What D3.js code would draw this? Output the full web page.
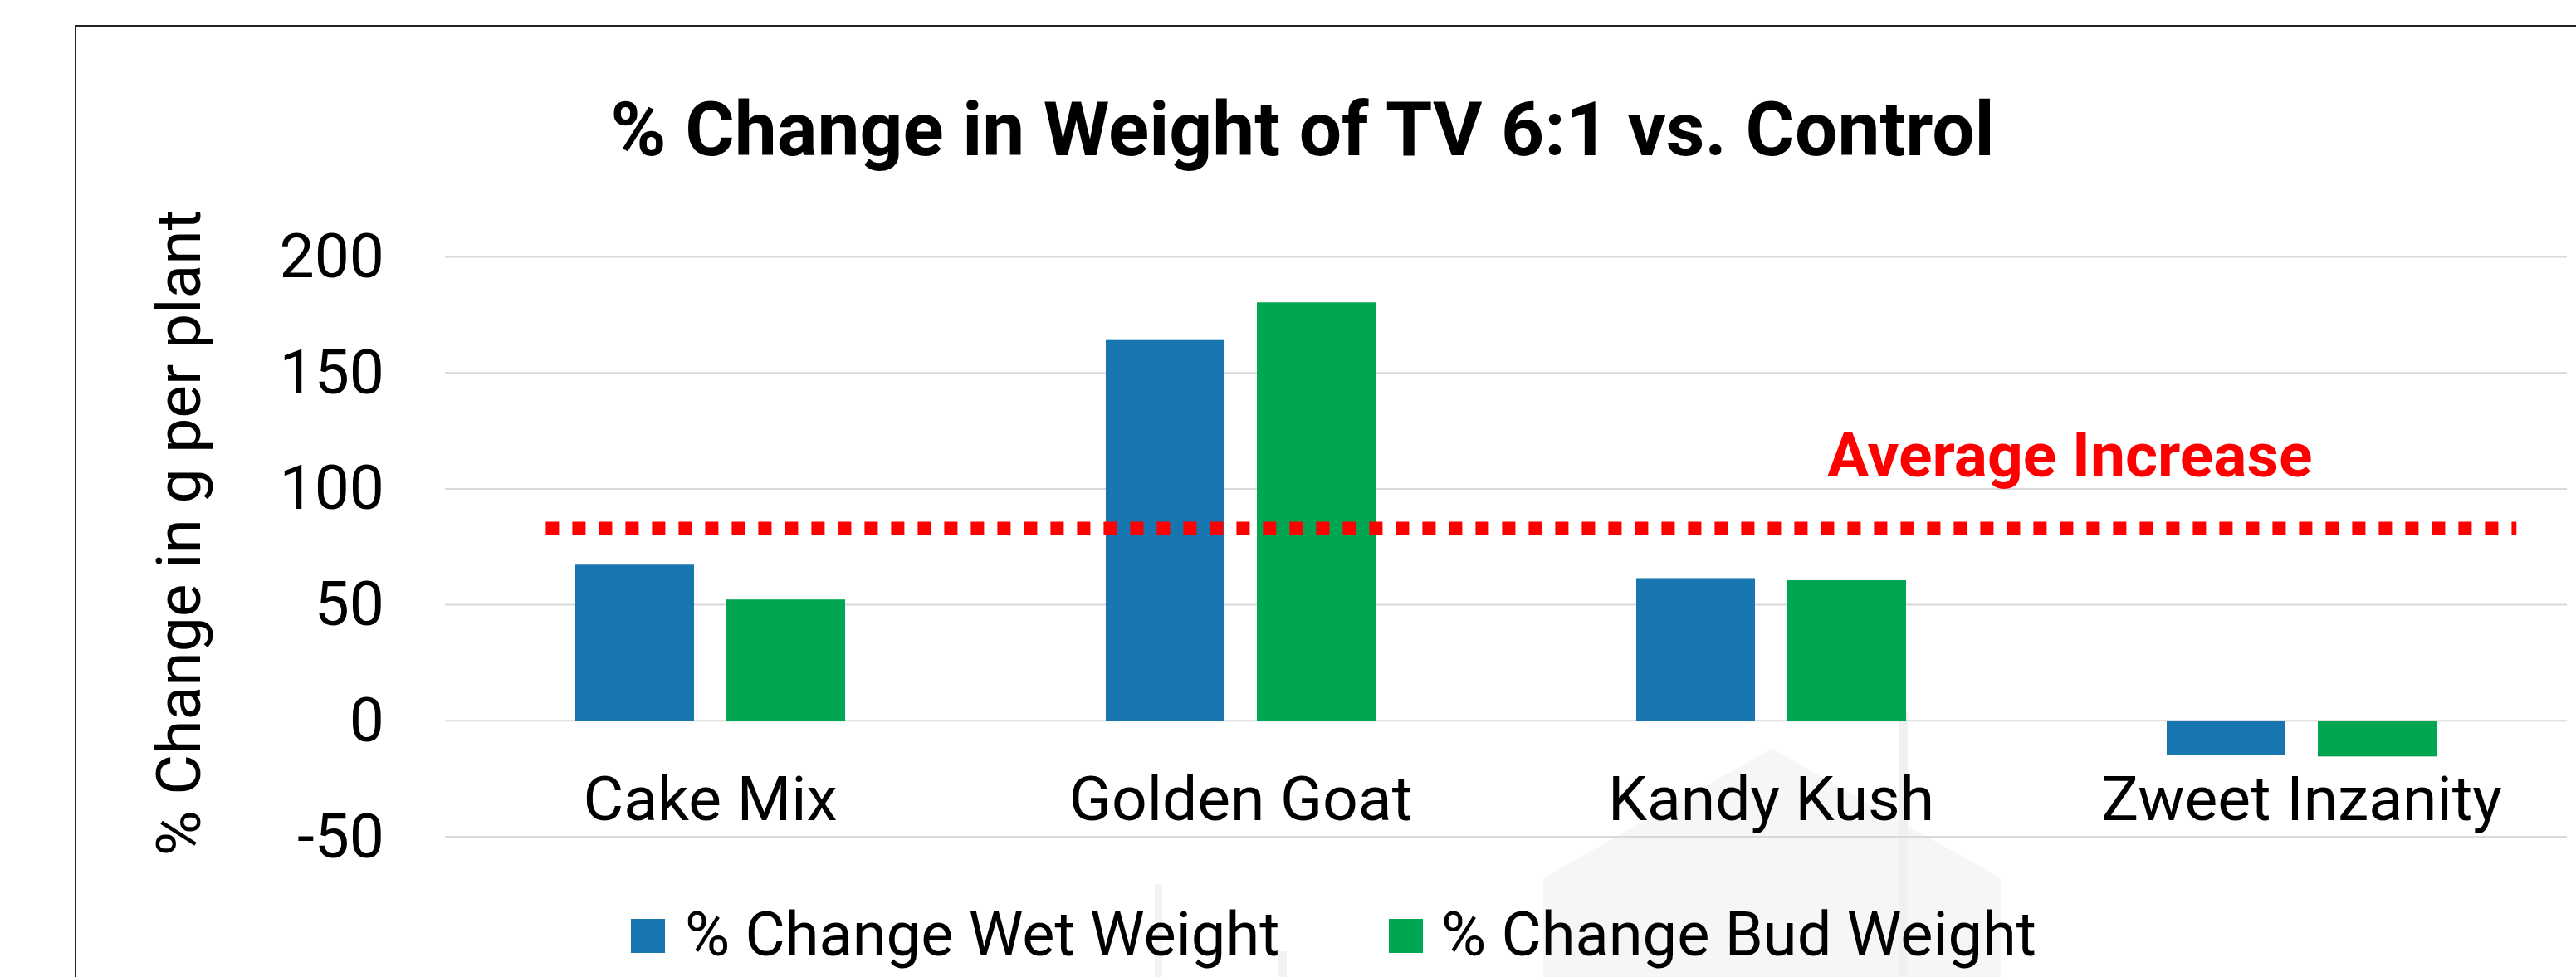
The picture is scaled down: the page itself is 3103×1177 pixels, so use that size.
<!DOCTYPE html>
<html>
<head>
<meta charset="utf-8">
<script src="https://cdn.jsdelivr.net/npm/d3@7"></script>
<style>
  html, body { margin: 0; padding: 0; background: #fff; }
  svg { display: block; font-family: Roboto, "Open Sans", sans-serif; }
</style>
</head>
<body>
<svg id="chart" width="3103" height="1177"></svg>
<script>
// --- DATOS ---
const categories  = ["Cake Mix", "Golden Goat", "Kandy Kush", "Zweet Inzanity"];
const seriesNames = ["% Change Wet Weight", "% Change Bud Weight"];
const wetWeight   = [67.3, 164.5, 61.5, -14.6];
const budWeight   = [52.3, 180.4, 60.6, -15.4];
const yTicks      = [-50, 0, 50, 100, 150, 200];
const avgIncrease = 83;
const avgLabel    = "Average Increase";
const avgSpan     = [-0.31, 3.405];   // in category units
const titleText   = "% Change in Weight of TV 6:1 vs. Control";
const yTitle      = "% Change in g per plant";

const COLORS = ["#1776b0", "#00a651"];

// --- LAYOUT ---
const W = 3103, H = 1177;
const plot = { left: 536, right: 3092, top: 309.5, bottom: 1008 };
const legendX = [760, 1673];

const svg = d3.select("#chart");

const x0 = d3.scaleBand()
  .domain(categories)
  .range([plot.left, plot.right])
  .padding(0);

const x1 = d3.scaleBand()
  .domain(seriesNames)
  .range([0, x0.bandwidth()])
  .paddingInner(0.2143)
  .paddingOuter(0.8624);

// category index -> px (for the average line / label)
const xIdx = d3.scaleLinear()
  .domain([-0.5, categories.length - 0.5])
  .range([plot.left, plot.right]);

const y = d3.scaleLinear()
  .domain([-50, 200])
  .range([plot.bottom, plot.top]);

// --- watermark (faint house) ---
const wm = svg.append("g").attr("class", "watermark");
wm.append("polygon")
  .attr("points", [[1859, H + 5], [1859, 1058], [2134, 902], [2410, 1058], [2410, H + 5]].join(" "))
  .attr("fill", "#f6f6f6");
wm.append("rect").attr("x", 2288).attr("y", 858).attr("width", 10).attr("height", H - 858)
  .attr("fill", "#f0f0f0");
wm.append("rect").attr("x", 1391).attr("y", 1065).attr("width", 9).attr("height", H - 1065)
  .attr("fill", "#f3f3f3");
wm.append("rect").attr("x", 1540).attr("y", 1146).attr("width", 10).attr("height", H - 1146)
  .attr("fill", "#f3f3f3");

// --- chart border ---
svg.append("rect")
  .attr("x", 91).attr("y", 31)
  .attr("width", W).attr("height", H)
  .attr("fill", "none")
  .attr("stroke", "#222").attr("stroke-width", 2);

// --- title ---
svg.append("text")
  .attr("x", 1569).attr("y", 187)
  .attr("text-anchor", "middle")
  .style("font-size", "91px").style("font-weight", "700")
  .attr("fill", "#000")
  .text(titleText);

// --- gridlines ---
svg.append("g")
  .selectAll("line")
  .data(yTicks)
  .join("line")
  .attr("x1", plot.left).attr("x2", plot.right)
  .attr("y1", d => y(d)).attr("y2", d => y(d))
  .attr("stroke", "#d9d9d9").attr("stroke-width", 2);

// --- y axis labels ---
const yAxis = svg.append("g")
  .attr("transform", `translate(${plot.left},0)`)
  .call(d3.axisLeft(y).tickValues(yTicks).tickFormat(d => String(d))
    .tickSize(0).tickPadding(73));
yAxis.select(".domain").remove();
yAxis.selectAll("text")
  .style("font-size", "75px")
  .style("font-family", "Roboto, sans-serif")
  .attr("fill", "#000");

// --- y axis title ---
svg.append("text")
  .attr("transform", "translate(241,642) rotate(-90)")
  .attr("text-anchor", "middle")
  .style("font-size", "75px")
  .attr("fill", "#000")
  .text(yTitle);

// --- bars ---
const rows = categories.map((c, i) => ({ cat: c, values: [wetWeight[i], budWeight[i]] }));

svg.append("g")
  .selectAll("g")
  .data(rows)
  .join("g")
  .attr("transform", d => `translate(${x0(d.cat)},0)`)
  .selectAll("rect")
  .data(d => d.values.map((v, j) => ({ key: seriesNames[j], v, j })))
  .join("rect")
  .attr("x", d => x1(d.key))
  .attr("width", x1.bandwidth())
  .attr("y", d => y(Math.max(0, d.v)))
  .attr("height", d => Math.abs(y(d.v) - y(0)))
  .attr("fill", d => COLORS[d.j]);

// --- category labels ---
const xAxis = svg.append("g")
  .attr("transform", `translate(0,${y(0)})`)
  .call(d3.axisBottom(x0).tickSize(0).tickPadding(66));
xAxis.select(".domain").remove();
xAxis.selectAll("text")
  .style("font-size", "75px")
  .style("font-family", "Roboto, sans-serif")
  .attr("fill", "#000");

// --- average line ---
svg.append("line")
  .attr("x1", xIdx(avgSpan[0])).attr("x2", xIdx(avgSpan[1]))
  .attr("y1", y(avgIncrease)).attr("y2", y(avgIncrease))
  .attr("stroke", "#ff0000").attr("stroke-width", 16)
  .attr("stroke-dasharray", "16,16");

svg.append("text")
  .attr("x", xIdx(2.563)).attr("y", y(avgIncrease) - 62)
  .attr("text-anchor", "middle")
  .style("font-size", "75px").style("font-weight", "700")
  .attr("fill", "#ff0000")
  .text(avgLabel);

// --- legend ---
const legend = svg.append("g").attr("class", "legend");
seriesNames.forEach((name, i) => {
  const lx = legendX[i];
  legend.append("rect")
    .attr("x", lx).attr("y", 1107)
    .attr("width", 41).attr("height", 41)
    .attr("fill", COLORS[i]);
  legend.append("text")
    .attr("x", lx + (i === 0 ? 65 : 63)).attr("y", 1151)
    .style("font-size", "74px")
    .attr("fill", "#000")
    .text(name);
});
</script>
</body>
</html>
